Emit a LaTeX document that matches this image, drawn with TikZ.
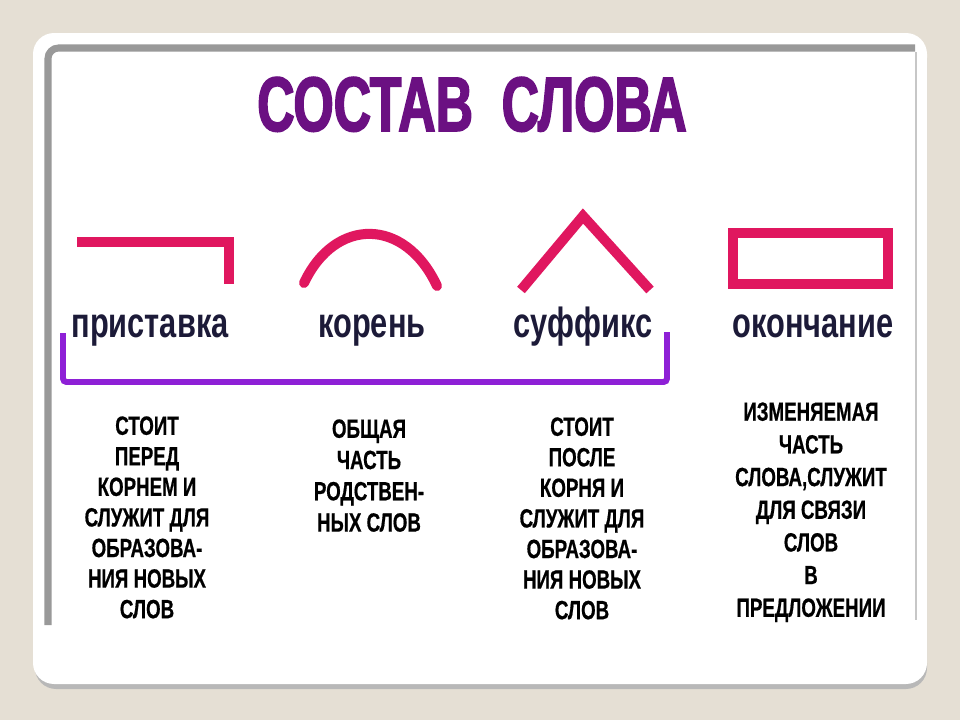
\documentclass[tikz,border=0pt]{standalone}
\usepackage{fontspec}
\usepackage{tikz}
\usetikzlibrary{positioning,calc}
\setmainfont{Liberation Sans}
\newfontfamily\titlefont[FakeStretch=0.67, FakeBold=2]{Liberation Sans}
\newfontfamily\labelfont[FakeStretch=0.73]{Liberation Sans}
\newfontfamily\descfont[FakeStretch=0.71, FakeBold=0.6]{Liberation Sans}
\definecolor{bgbeige}{HTML}{E5DFD4}
\definecolor{titlepurple}{HTML}{6B1082}
\definecolor{markpink}{HTML}{E0175F}
\definecolor{bracketviolet}{HTML}{8E20D6}
\definecolor{labelnavy}{HTML}{1C1A38}
\tikzset{
        mark line/.style = {draw=markpink, line width=5.7pt},
        bracket/.style = {draw=bracketviolet, line width=3.4pt, rounded corners=2pt},
        part/.style = {anchor=base, inner sep=0pt, text=labelnavy, font=\labelfont\bfseries\fontsize{24}{28}\selectfont},
        desc/.style = {anchor=north, inner sep=0pt, align=center, font=\descfont\bfseries\fontsize{15}{17.4}\selectfont}}

\begin{document}
\begin{tikzpicture}[x=0.02cm, y=-0.02cm]
    \useasboundingbox (0,0) rectangle (960,720);
    \fill[bgbeige] (0,0) rectangle (960,720);
    % card with shadow
    \fill[black!28, rounded corners=12] (35,37) rectangle (927,689);
    \fill[white, rounded corners=12] (33,33) rectangle (927,684);
    \draw[black!40, line width=4pt, rounded corners=6] (48,625) |- (915,48);
    \draw[black!22, line width=0.6pt] (916,52) -- (916,620);

    \node[anchor=base, inner sep=0pt, text=titlepurple, font=\titlefont\bfseries\fontsize{44}{48}\selectfont] (title) at (472,131) {СОСТАВ\ \ СЛОВА};

    % signs of the parts
    \draw[mark line] (77,242) -| (229,284);
    \draw[mark line, line cap=round] (304,283) .. controls (335,217) and (405,217) .. (437,286);
    \draw[mark line] (521,290) -- (583,216) -- (650,290);
    \draw[mark line] (733,233) rectangle (888,284);

    \node[part] (pref) at (150,337) {приставка};
    \node[part] (root) at (372,337) {корень};
    \node[part] (suff) at (583,337) {суффикс};
    \node[part] (ending) at (813,337) {окончание};

    \coordinate (bl) at (63,333);
    \coordinate (br) at (667,332);
    \draw[bracket] (bl) |- ($(br)+(0,50)$) -- (br);

    \node[desc] (prefdesc) at (147,416) {СТОИТ\\ПЕРЕД\\КОРНЕМ И\\СЛУЖИТ ДЛЯ\\ОБРАЗОВА-\\НИЯ НОВЫХ\\СЛОВ};
    \node[desc, font=\descfont\bfseries\fontsize{15}{17.8}\selectfont] (rootdesc) at (369,419) {ОБЩАЯ\\ЧАСТЬ\\РОДСТВЕН-\\НЫХ СЛОВ};
    \node[desc] (suffdesc) at (582,417) {СТОИТ\\ПОСЛЕ\\КОРНЯ И\\СЛУЖИТ ДЛЯ\\ОБРАЗОВА-\\НИЯ НОВЫХ\\СЛОВ};
    \node[desc, font=\descfont\bfseries\fontsize{15}{18.6}\selectfont] (enddesc) at (811,402) {ИЗМЕНЯЕМАЯ\\ЧАСТЬ\\СЛОВА,СЛУЖИТ\\ДЛЯ СВЯЗИ\\СЛОВ\\В\\ПРЕДЛОЖЕНИИ};
\end{tikzpicture}
\end{document}
